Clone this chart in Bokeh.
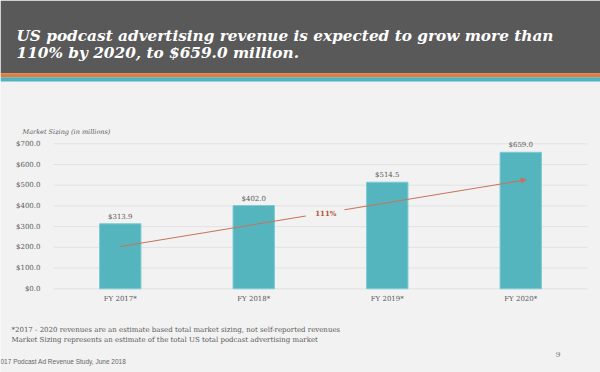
from bokeh.plotting import figure
from bokeh.core.properties import value
from bokeh.models import (Range1d, FixedTicker, NumeralTickFormatter, BoxAnnotation, LinearAxis,
                          Label, Arrow, NormalHead, ColumnDataSource)
from bokeh.embed import file_html
from bokeh.resources import INLINE

# ---- data ----
categories = ["FY 2017*", "FY 2018*", "FY 2019*", "FY 2020*"]
revenue = [313.9, 402.0, 514.5, 659.0]
value_labels = ["$313.9", "$402.0", "$514.5", "$659.0"]
y_ticks = [0, 100, 200, 300, 400, 500, 600, 700]
trend_x = [0.0, 3.04]
trend_y = [204, 526]
trend_gap_x = [1.39, 1.68]
growth_label = "111%"
growth_pos = (1.54, 363)

title_lines = ["US podcast advertising revenue is expected to grow more than",
               "110% by 2020, to $659.0 million."]
axis_title = "Market Sizing (in millions)"
footnotes = ["*2017 - 2020 revenues are an estimate based total market sizing, not self-reported revenues",
             "Market Sizing represents an estimate of the total US total podcast advertising market"]
source_note = "017 Podcast Ad Revenue Study, June 2018"
page_number = "9"

BG = "#f2f2f2"
DARK = "#595959"
BAR = "#55b5bf"
TREND = "#c8735a"
SERIF = "DejaVu Serif"

W, H = 600, 372
# chart area on the slide (pixels from top-left)
CL, CR = 53, 587          # x of category band edges
CT, CB = 143.3, 288.3     # y of 700 and 0
X0, X1 = -0.5, len(categories) - 0.5
Y0, Y1 = 0, 700
kx = (CR - CL) / (X1 - X0)
ky = (CB - CT) / (Y1 - Y0)
x_range = Range1d(X0 - CL / kx, X1 + (W - CR) / kx)
y_range = Range1d(Y0 - (H - CB) / ky, Y1 + CT / ky)

p = figure(width=W, height=H, x_range=x_range, y_range=y_range, x_axis_type=None, y_axis_type=None,
           output_backend="svg", toolbar_location=None, min_border=0)
p.min_border_left = p.min_border_right = p.min_border_top = p.min_border_bottom = 0
p.background_fill_color = BG
p.border_fill_color = BG
p.outline_line_color = None
p.grid.visible = False


# ---- slide decoration (screen units: origin at bottom-left of the frame) ----
def sy(y):
    return H - y


S = dict(left_units="screen", right_units="screen", top_units="screen", bottom_units="screen")
for t0, t1, col in [(0, 72.7, DARK), (72.7, 76.7, "#e07d3c"), (76.7, 81, "#4fb3c1")]:
    p.add_layout(BoxAnnotation(left=0, right=W, top=sy(t0), bottom=sy(t1), fill_color=col,
                               fill_alpha=1, line_color=None, level="underlay", **S))
L = dict(x_units="screen", y_units="screen")
for t, yy in zip(title_lines, [35, 52]):
    p.add_layout(Label(x=16, y=sy(yy), text=t, text_color="white", text_font=SERIF,
                       text_font_style="bold italic", text_font_size="15.3px",
                       text_baseline="alphabetic", **L))
p.add_layout(Label(x=22, y=sy(131.7), text=axis_title, text_font=SERIF, text_font_style="italic",
                   text_font_size="6.5px", text_color=DARK, text_baseline="middle", **L))
for t, yy in zip(footnotes, [329, 339.5]):
    p.add_layout(Label(x=11, y=sy(yy), text=t, text_font=SERIF, text_font_size="7px",
                       text_color=DARK, text_baseline="alphabetic", **L))
p.add_layout(Label(x=0, y=sy(361), text=source_note, text_font="Liberation Sans",
                   text_font_size="6.5px", text_color="#666666", text_baseline="middle", **L))
p.add_layout(Label(x=555, y=sy(354), text=page_number, text_font=SERIF, text_font_size="8px",
                   text_color="#777777", text_baseline="middle", **L))

# ---- gridlines ----
p.segment(x0=[X0] * len(y_ticks), x1=[X1] * len(y_ticks), y0=y_ticks, y1=y_ticks,
          line_color="#e2e2e2", line_width=1, level="underlay")

# ---- bars ----
idx = list(range(len(categories)))
src = ColumnDataSource(dict(x=idx, top=revenue, lab=value_labels))
p.vbar(x="x", top="top", width=0.31, source=src, fill_color=BAR, line_color="#7ccbd3", line_width=1)
p.text(x="x", y="top", text="lab", source=src, y_offset=-3, text_align="center",
       text_baseline="bottom", text_font_size="7px", text_color=DARK, text_font=value(SERIF))

# ---- axes placed at fixed locations inside the frame ----
yax = LinearAxis(ticker=FixedTicker(ticks=y_ticks), formatter=NumeralTickFormatter(format="$0.0"),
                 fixed_location=X0)
xax = LinearAxis(ticker=FixedTicker(ticks=idx), major_label_overrides={i: c for i, c in zip(idx, categories)},
                 fixed_location=Y0)
for ax in (xax, yax):
    ax.axis_line_color = None
    ax.major_tick_line_color = None
    ax.minor_tick_line_color = None
    ax.major_label_text_font = SERIF
    ax.major_label_text_font_size = "7px"
    ax.major_label_text_color = DARK
yax.major_label_standoff = 7
xax.major_label_standoff = 0
p.add_layout(yax, "left")
p.add_layout(xax, "below")

# ---- growth trend ----
slope = (trend_y[1] - trend_y[0]) / (trend_x[1] - trend_x[0])
gy = [trend_y[0] + slope * (g - trend_x[0]) for g in trend_gap_x]
p.line(x=[trend_x[0], trend_gap_x[0]], y=[trend_y[0], gy[0]], line_color=TREND, line_width=1.1)
p.add_layout(Arrow(x_start=trend_gap_x[1], y_start=gy[1], x_end=trend_x[1], y_end=trend_y[1],
                   line_color=TREND, line_width=1.1,
                   end=NormalHead(size=5, fill_color=TREND, line_color=TREND)))
p.add_layout(Label(x=growth_pos[0], y=growth_pos[1], text=growth_label, text_align="center",
                   text_baseline="middle", text_font=SERIF, text_font_style="bold",
                   text_font_size="7px", text_color="#b5553a"))

open("out.html", "w").write(file_html(p, INLINE))
